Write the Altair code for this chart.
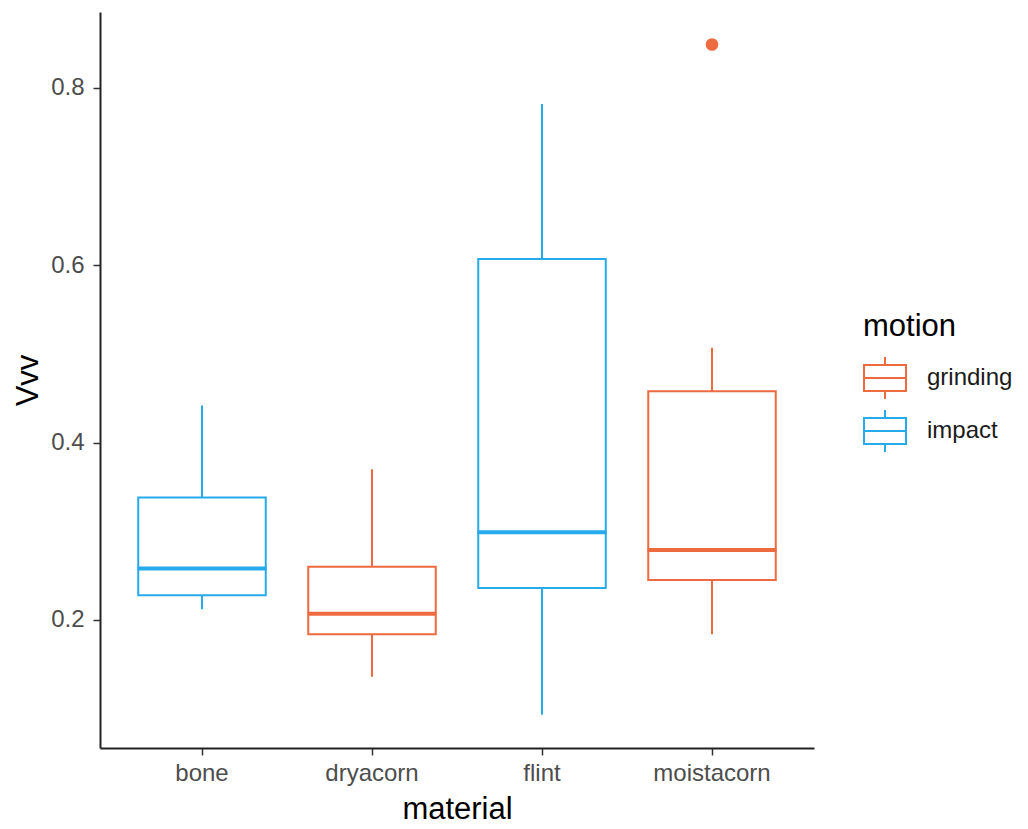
import altair as alt
import pandas as pd

materials = ["bone", "dryacorn", "flint", "moistacorn"]
motions = ["impact", "grinding", "impact", "grinding"]
whisker_low = [0.212, 0.136, 0.093, 0.184]
q1 = [0.228, 0.184, 0.236, 0.245]
median = [0.258, 0.207, 0.299, 0.279]
q3 = [0.338, 0.260, 0.607, 0.458]
whisker_high = [0.442, 0.370, 0.782, 0.507]
outlier_material = ["moistacorn"]
outlier_motion = ["grinding"]
outlier_value = [0.849]

motion_domain = ["grinding", "impact"]
motion_colors = ["#EE6A3F", "#26AAEC"]

df = pd.DataFrame({
    "material": materials, "motion": motions, "lo": whisker_low, "q1": q1,
    "med": median, "q3": q3, "hi": whisker_high,
})
out = pd.DataFrame({"material": outlier_material, "motion": outlier_motion, "Vvv": outlier_value})

FONT = "Liberation Sans"
xenc = alt.X("material:N", title="material", sort=materials,
             scale=alt.Scale(paddingInner=0, paddingOuter=0.1),
             axis=alt.Axis(labelAngle=0, labelFontSize=24, labelColor="#4D4D4D",
                           titleFontSize=31, titleColor="#000000", titleFontWeight="normal",
                           tickColor="#333333", tickSize=7, tickWidth=1.5,
                           domainColor="#222222", domainWidth=2, labelPadding=6, titlePadding=9))
yscale = alt.Scale(domain=[0.0556, 0.8857], nice=False, zero=False)
yaxis = alt.Axis(values=[0.2, 0.4, 0.6, 0.8], format=".1f", labelFontSize=24, labelColor="#4D4D4D",
                 titleFontSize=31, titleColor="#000000", titleFontWeight="normal",
                 tickColor="#333333", tickSize=7, tickWidth=1.5, grid=False,
                 domainColor="#222222", domainWidth=2, labelPadding=9, titlePadding=6)
cscale = alt.Scale(domain=motion_domain, range=motion_colors)

legend = alt.Legend(orient="none", legendX=763, legendY=300, title="motion",
                    titleFontSize=31, titleFontWeight="normal", titleColor="#000000",
                    titlePadding=13, labelFontSize=24, labelColor="#1A1A1A", labelOffset=20,
                    symbolType="M-1,-0.62L1,-0.62L1,0.62L-1,0.62Z M-1,0L1,0 M0,-0.62L0,-1 M0,0.62L0,1",
                    symbolSize=1764, symbolStrokeWidth=2, symbolFillColor="transparent",
                    rowPadding=3, padding=0)
cenc = alt.Color("motion:N", scale=cscale, legend=legend)

base = alt.Chart(df)

box = base.mark_bar(filled=False, strokeWidth=2, width=alt.RelativeBandSize(0.75)).encode(
    x=xenc, y=alt.Y("q1:Q", scale=yscale, axis=yaxis, title="Vvv"), y2="q3:Q",
    color=cenc)

whisk_low = base.mark_rule(strokeWidth=2).encode(
    x=xenc, y=alt.Y("lo:Q", scale=yscale, axis=yaxis, title="Vvv"), y2="q1:Q",
    color=cenc)
whisk_high = base.mark_rule(strokeWidth=2).encode(
    x=xenc, y=alt.Y("q3:Q", scale=yscale, axis=yaxis, title="Vvv"), y2="hi:Q",
    color=cenc)

med = base.mark_tick(filled=False, thickness=1, strokeWidth=3, size=126, opacity=1).encode(
    x=xenc, y=alt.Y("med:Q", scale=yscale, axis=yaxis, title="Vvv"),
    color=cenc)

pts = alt.Chart(out).mark_point(filled=False, size=36, strokeWidth=6.6, opacity=1).encode(
    x=xenc, y=alt.Y("Vvv:Q", scale=yscale, axis=yaxis, title="Vvv"),
    color=cenc)

chart = alt.layer(box, whisk_low, whisk_high, med, pts).properties(
    width=714, height=736,
    autosize=alt.AutoSizeParams(type="none"),
    padding={"left": 100, "top": 12, "right": 214, "bottom": 81},
    background="white",
).configure(font=FONT).configure_view(stroke=None)

chart.save("out.html", embed_options={"renderer": "svg", "actions": False})
